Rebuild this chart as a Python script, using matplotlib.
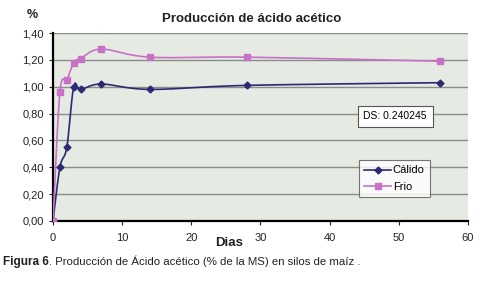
import matplotlib.pyplot as plt
from matplotlib.lines import Line2D
import numpy as np

plt.rcParams['font.family'] = ['Liberation Sans', 'DejaVu Sans']

dias = [0, 1, 2, 3, 4, 7, 14, 28, 56]
calido = [0.00, 0.40, 0.55, 1.00, 0.98, 1.02, 0.98, 1.01, 1.03]
frio = [0.00, 0.96, 1.05, 1.18, 1.21, 1.28, 1.22, 1.22, 1.19]
yticks = [0.0, 0.2, 0.4, 0.6, 0.8, 1.0, 1.2, 1.4]
xticks = [0, 10, 20, 30, 40, 50, 60]

C_CAL = '#2b2a72'
C_FRIO = '#c772c6'


def smooth(xs, ys, sx=415 / 60, sy=188 / 1.4, n=30):
    # Excel-like smoothed line: Catmull-Rom in screen-ish space
    p = np.column_stack([np.array(xs) * sx, np.array(ys) * sy])
    p = np.vstack([p[0], p, p[-1]])
    out = []
    for i in range(1, len(p) - 2):
        p0, p1, p2, p3 = p[i - 1], p[i], p[i + 1], p[i + 2]
        t = np.linspace(0, 1, n)[:, None]
        c = 0.5 * ((2 * p1) + (-p0 + p2) * t + (2 * p0 - 5 * p1 + 4 * p2 - p3) * t ** 2
                   + (-p0 + 3 * p1 - 3 * p2 + p3) * t ** 3)
        out.append(c)
    out = np.vstack(out)
    return out[:, 0] / sx, out[:, 1] / sy


fig = plt.figure(figsize=(4.8, 2.85), dpi=100)
ax = fig.add_axes([0.1104, 0.2246, 0.8646, 0.6596])
ax.set_facecolor('#e5eae2')

for y in yticks[1:]:
    ax.axhline(y, color='#8c8c8c', lw=1.0, zorder=1)

sx, sy = smooth(dias, calido)
ax.plot(sx, sy, color=C_CAL, lw=1.2, zorder=3)
ax.plot(dias, calido, 'D', color=C_CAL, ms=3.5, zorder=4)
fx, fy = smooth(dias, frio)
ax.plot(fx, fy, color=C_FRIO, lw=1.2, zorder=3)
ax.plot(dias, frio, 's', color=C_FRIO, ms=5, zorder=4)

ax.set_xlim(0, 60)
ax.set_ylim(0, 1.4)
ax.set_xticks(xticks)
ax.set_yticks(yticks)
ax.set_yticklabels([('%.2f' % v).replace('.', ',') for v in yticks])
ax.tick_params(axis='both', labelsize=8, colors='#222222', length=3, width=0.8)
ax.tick_params(axis='x', pad=6)
for s in ['top', 'right']:
    ax.spines[s].set_visible(False)
ax.spines['left'].set_linewidth(1.6)
ax.spines['bottom'].set_linewidth(1.6)

# legend
h = [Line2D([], [], color=C_CAL, marker='D', ms=3.5, lw=1.2),
     Line2D([], [], color=C_FRIO, marker='s', ms=5, lw=1.2)]
leg = ax.legend(h, ['Cálido', 'Frio'], loc='upper left', bbox_to_anchor=(0.737, 0.325),
                fontsize=8, frameon=True, fancybox=False, handlelength=2.4,
                handletextpad=0.15, borderpad=0.5, labelspacing=0.55,
                borderaxespad=0)
leg.get_frame().set_edgecolor('#555555')
leg.get_frame().set_linewidth(0.8)
leg.get_frame().set_facecolor('white')

ax.text(0.748, 0.557, 'DS: 0.240245', transform=ax.transAxes, fontsize=7.5,
        va='center', ha='left',
        bbox=dict(boxstyle='square,pad=0.55', fc='white', ec='#555555', lw=0.8))

fig.text(0.524, 0.935, 'Producción de ácido acético', ha='center', va='center',
         fontsize=9.5, fontweight='bold', color='#222222')
fig.text(0.068, 0.947, '%', ha='center', va='center', fontsize=9,
         fontweight='bold', color='#222222')
fig.text(0.477, 0.148, 'Dias', ha='center', va='center', fontsize=9.5,
         fontweight='bold', color='#222222')
t1 = fig.text(0.006, 0.082, 'Figura 6', ha='left', va='center', fontsize=8.5,
              fontweight='bold', color='#222222')
ax.annotate('. Producción de Ácido acético (% de la MS) en silos de maíz .',
            xy=(1, 0.5), xycoords=t1, ha='left', va='center', fontsize=8.2,
            color='#222222', annotation_clip=False)

fig.savefig('out.png', dpi=100)
